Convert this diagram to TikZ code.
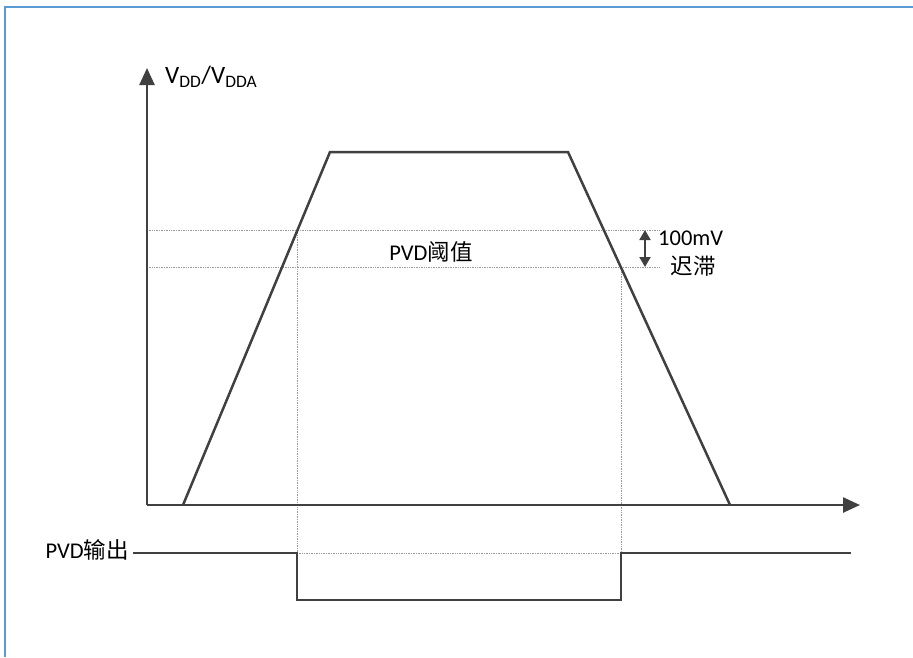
\documentclass[tikz,border=0pt]{standalone}
\usepackage{fontspec}
\setmainfont{Carlito}
\newfontfamily\cjk{Noto Sans CJK SC}
\usetikzlibrary{arrows.meta}
\definecolor{linec}{HTML}{404040}
\definecolor{framec}{HTML}{5B9BD5}
\begin{document}
\begin{tikzpicture}[x=1pt,y=-1pt,
  mainline/.style={draw=linec,line width=2.5pt,line join=miter},
  guide/.style={draw=gray!80,line width=0.7pt,densely dotted},
  txt/.style={inner sep=0pt,text=black,font=\fontsize{22.5}{27}\selectfont},
  axisarrow/.style={-{Triangle[length=17pt,width=15pt]}}
]
\useasboundingbox (0,0) rectangle (913,657);
% frame
\draw[framec,line width=2pt] (5,657) -- (5,7) -- (913,7);

% coordinates
\coordinate (O) at (147,505);
\coordinate (Ytip) at (147,68);
\coordinate (Xtip) at (860,505);
\coordinate (A) at (183,505);
\coordinate (B) at (330,152);
\coordinate (C) at (568,152);
\coordinate (D) at (730,505);
\coordinate (Th1L) at (147,230);
\coordinate (Th1R) at (660,230);
\coordinate (Th2L) at (147,267);
\coordinate (Th2R) at (660,267);
\coordinate (P1) at (297,230);
\coordinate (P2) at (621,267);
\coordinate (Q0) at (133,553);
\coordinate (Q1) at (297,553);
\coordinate (Q2) at (297,600);
\coordinate (Q3) at (621,600);
\coordinate (Q4) at (621,553);
\coordinate (Q5) at (851,553);
\coordinate (H1) at (645,230);
\coordinate (H2) at (645,267);

% guides
\draw[guide] (Th1L) -- (Th1R);
\draw[guide] (Th2L) -- (Th2R);
\draw[guide] (P1) -- (Q1);
\draw[guide] (P2) -- (Q4);
\draw[guide] (Q1) -- (Q4);

% axes
\draw[mainline,axisarrow] (O) -- (Ytip);
\draw[mainline,axisarrow] (O) -- (Xtip);

% trapezoid
\draw[mainline] (A) -- (B) -- (C) -- (D);

% output
\draw[mainline] (Q0) -- (Q1) -- (Q2) -- (Q3) -- (Q4) -- (Q5);

% hysteresis arrow
\draw[draw=linec,line width=2pt,{Triangle[length=10pt,width=11pt]}-{Triangle[length=10pt,width=11pt]}] (H1) -- (H2);

% texts
\node[txt,anchor=west,font=\fontsize{25}{29}\selectfont] (ylab) at (165,77) {V\textsubscript{DD}/V\textsubscript{DDA}};
\node[txt] (thr) at (431,252) {PVD{\cjk 阈值}};
\node[txt,anchor=west] (hv) at (658,238) {100mV};
\node[txt] (hz) at (693,266) {\cjk 迟滞};
\node[txt,anchor=east] (outlab) at (129,550) {PVD{\cjk 输出}};
\end{tikzpicture}
\end{document}
